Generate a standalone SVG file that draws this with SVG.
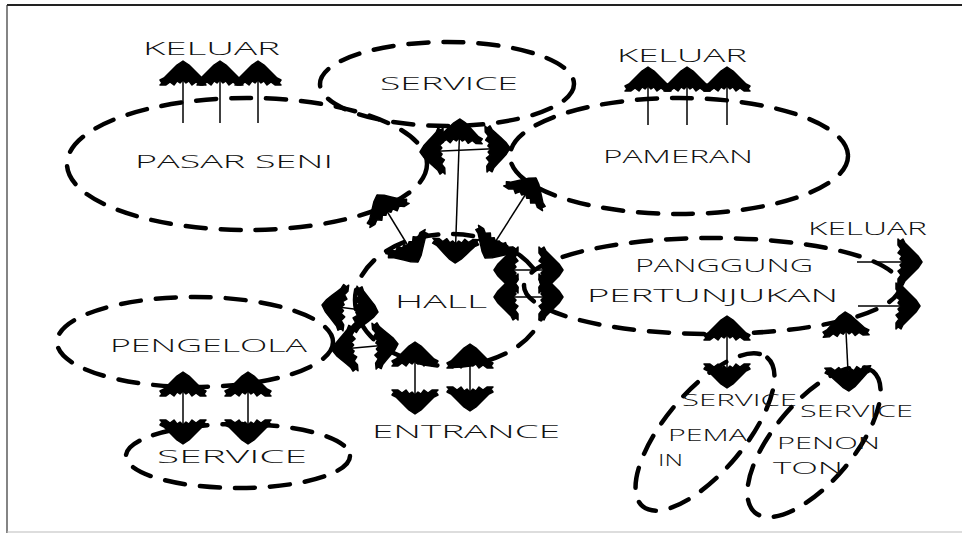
<svg xmlns="http://www.w3.org/2000/svg" width="962" height="534" viewBox="0 0 962 534">
<style>
.bub{fill:none;stroke:#000;stroke-width:4.5;stroke-dasharray:20 15;stroke-linecap:round}
.ln{fill:none;stroke:#000;stroke-width:1.5}
.one{marker-end:url(#ah)}
.two{marker-start:url(#ah);marker-end:url(#ah)}
.t{font-family:"Open Sans","Liberation Sans",sans-serif;font-weight:300;font-size:19px;fill:#111}
.s{font-size:17px}
</style>
<defs>
<marker id="ah" markerUnits="userSpaceOnUse" markerWidth="50" markerHeight="50" refX="0" refY="0" orient="auto-start-reverse" overflow="visible">
<path d="M0,0 L-4,-6 L-9,-11 L-13,-15 L-17,-19 L-19,-23 L-22,-21 L-24,-23 L-24,-17 L-21,-13 L-24,-9 L-20,-6 L-22,-3 L-19,0 L-22,3 L-20,6 L-24,9 L-21,13 L-24,17 L-24,23 L-22,21 L-19,23 L-17,19 L-13,15 L-9,11 L-4,6 Z" fill="#000" stroke="#000" stroke-width="1.5" stroke-linejoin="round"/>
</marker>
</defs>
<rect width="962" height="534" fill="#fff"/>
<g id="frame">
<line x1="7" y1="5" x2="962" y2="5" stroke="#222" stroke-width="2"/>
<line x1="7" y1="5" x2="7" y2="533" stroke="#333" stroke-width="1.2"/>
<line x1="7" y1="532" x2="962" y2="532" stroke="#bbb" stroke-width="1.2"/>
</g>
<g id="pasar-seni">
<ellipse class="bub" cx="247" cy="164" rx="180" ry="66"/>
<text class="t" x="135" y="168" textLength="198" lengthAdjust="spacingAndGlyphs">PASAR SENI</text>
</g>
<g id="service-top">
<ellipse class="bub" cx="447" cy="84" rx="127" ry="42"/>
<text class="t" x="380" y="90" textLength="138" lengthAdjust="spacingAndGlyphs">SERVICE</text>
</g>
<g id="pameran">
<ellipse class="bub" cx="679" cy="156" rx="169" ry="58"/>
<text class="t" x="603" y="163" textLength="150" lengthAdjust="spacingAndGlyphs">PAMERAN</text>
</g>
<g id="keluar-1">
<text class="t" x="143" y="55" textLength="137" lengthAdjust="spacingAndGlyphs">KELUAR</text>
</g>
<g id="keluar-2">
<text class="t" x="617" y="62" textLength="130" lengthAdjust="spacingAndGlyphs">KELUAR</text>
</g>
<g id="keluar-3">
<text class="t" x="808" y="235" textLength="119" lengthAdjust="spacingAndGlyphs">KELUAR</text>
</g>
<g id="panggung">
<ellipse class="bub" cx="712" cy="286" rx="188" ry="48"/>
<text class="t" x="635" y="272" textLength="178" lengthAdjust="spacingAndGlyphs">PANGGUNG</text>
<text class="t" x="587" y="302" textLength="251" lengthAdjust="spacingAndGlyphs">PERTUNJUKAN</text>
</g>
<g id="hall">
<ellipse class="bub" cx="450" cy="300" rx="95" ry="66"/>
<text class="t" x="395" y="308" textLength="92" lengthAdjust="spacingAndGlyphs">HALL</text>
</g>
<g id="pengelola">
<ellipse class="bub" cx="195" cy="342" rx="138" ry="45"/>
<text class="t" x="110" y="352" textLength="197" lengthAdjust="spacingAndGlyphs">PENGELOLA</text>
</g>
<g id="entrance">
<text class="t" x="372" y="438" textLength="188" lengthAdjust="spacingAndGlyphs">ENTRANCE</text>
</g>
<g id="service-pengelola">
<ellipse class="bub" cx="238" cy="456" rx="112" ry="32"/>
<text class="t" x="157" y="463" textLength="150" lengthAdjust="spacingAndGlyphs">SERVICE</text>
</g>
<g id="service-pemain">
<ellipse class="bub" cx="705" cy="432" rx="97" ry="40" transform="rotate(-50 705 432)"/>
<text class="t s" x="682" y="406" textLength="115" lengthAdjust="spacingAndGlyphs">SERVICE</text>
<text class="t s" x="668" y="441" textLength="79" lengthAdjust="spacingAndGlyphs">PEMA</text>
<text class="t s" x="658" y="466" textLength="25" lengthAdjust="spacingAndGlyphs">IN</text>
</g>
<g id="service-penonton">
<ellipse class="bub" cx="814" cy="442" rx="92" ry="40" transform="rotate(-50 814 442)"/>
<text class="t s" x="800" y="417" textLength="113" lengthAdjust="spacingAndGlyphs">SERVICE</text>
<text class="t s" x="777" y="449" textLength="103" lengthAdjust="spacingAndGlyphs">PENON</text>
<text class="t s" x="773" y="474" textLength="70" lengthAdjust="spacingAndGlyphs">TON</text>
</g>
<g id="connectors">
<line class="ln one" x1="183" y1="123" x2="183" y2="61"/>
<line class="ln one" x1="220" y1="123" x2="220" y2="61"/>
<line class="ln one" x1="258" y1="123" x2="258" y2="61"/>
<line class="ln one" x1="648" y1="125" x2="648" y2="67"/>
<line class="ln one" x1="687" y1="125" x2="687" y2="67"/>
<line class="ln one" x1="727" y1="125" x2="727" y2="67"/>
<line class="ln two" x1="460" y1="119" x2="455" y2="263"/>
<line class="ln two" x1="420" y1="152" x2="510" y2="148"/>
<line class="ln two" x1="377" y1="195" x2="418" y2="262"/>
<line class="ln two" x1="536" y1="178" x2="485" y2="258"/>
<line class="ln two" x1="494" y1="270" x2="563" y2="270"/>
<line class="ln two" x1="494" y1="297" x2="563" y2="297"/>
<line class="ln two" x1="322" y1="305" x2="378" y2="312"/>
<line class="ln two" x1="332" y1="350" x2="398" y2="344"/>
<line class="ln two" x1="415" y1="342" x2="415" y2="414"/>
<line class="ln two" x1="470" y1="344" x2="470" y2="411"/>
<line class="ln two" x1="183" y1="372" x2="183" y2="444"/>
<line class="ln two" x1="248" y1="372" x2="248" y2="444"/>
<line class="ln two" x1="727" y1="316" x2="727" y2="388"/>
<line class="ln two" x1="845" y1="312" x2="849" y2="391"/>
<line class="ln one" x1="857" y1="262" x2="922" y2="262"/>
<line class="ln one" x1="858" y1="306" x2="920" y2="306"/>
</g>
</svg>
